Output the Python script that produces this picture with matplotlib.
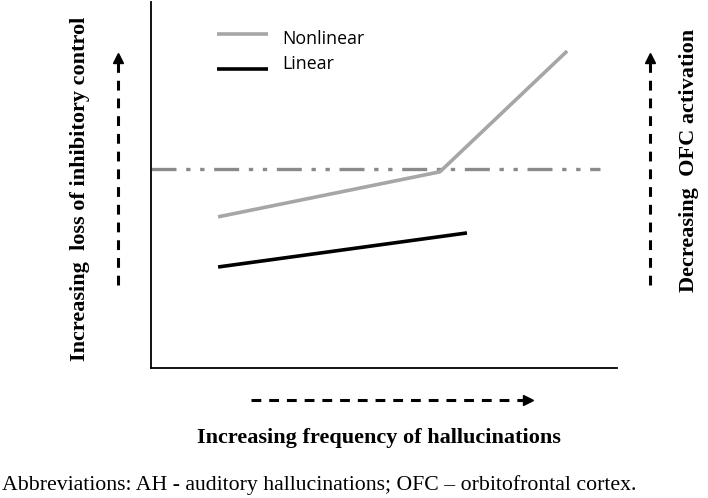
import matplotlib.pyplot as plt
from matplotlib.lines import Line2D

# schematic values (arbitrary units)
nonlinear_x = [1.44, 6.2, 8.93]
nonlinear_y = [4.13, 5.36, 8.66]
linear_x = [1.44, 6.78]
linear_y = [2.76, 3.69]
threshold_y = 5.44
threshold_xmax = 9.64

W, H = 708, 498
fig = plt.figure(figsize=(W / 100, H / 100), dpi=100)
ax = fig.add_axes([151 / W, 1 - 368 / H, (617 - 151) / W, (368 - 2) / H])
ax.set_xlim(0, 10)
ax.set_ylim(0, 10)
for s in ["top", "right"]:
    ax.spines[s].set_visible(False)
for s in ["left", "bottom"]:
    ax.spines[s].set_linewidth(1.3)
ax.set_xticks([])
ax.set_yticks([])

ax.plot([0, threshold_xmax], [threshold_y, threshold_y], color="#8a8a8a", lw=2.4,
        dashes=(7.5, 2.9, 1.3, 2.9, 1.3, 2.9))
ax.plot(nonlinear_x, nonlinear_y, color="#a6a6a6", lw=2.6, solid_capstyle="butt")
ax.plot(linear_x, linear_y, color="black", lw=2.6, solid_capstyle="butt")

# legend drawn by hand
lx0, lx1 = (217 - 151) / 46.6, (268 - 151) / 46.6
ax.plot([lx0, lx1], [(368 - 34) / 36.6] * 2, color="#a6a6a6", lw=2.6, solid_capstyle="butt")
ax.plot([lx0, lx1], [(368 - 69) / 36.6] * 2, color="black", lw=2.6, solid_capstyle="butt")
ax.text((282 - 151) / 46.6, (368 - 39) / 36.6, "Nonlinear", family="Open Sans",
        fontsize=12.8, va="center")
ax.text((282 - 151) / 46.6, (368 - 64) / 36.6, "Linear", family="Open Sans",
        fontsize=12.8, va="center")


def dashed_arrow(x0, y0, x1, y1, marker):
    fig.add_artist(Line2D([x0 / W, x1 / W], [1 - y0 / H, 1 - y1 / H], color="black",
                          lw=2.2, dashes=(3.2, 2.6)))
    fig.add_artist(Line2D([x1 / W], [1 - y1 / H], marker=marker, color="black",
                          markersize=7, lw=0))


dashed_arrow(118, 285, 118, 58, "^")
dashed_arrow(650, 285, 650, 58, "^")
dashed_arrow(251, 400, 528, 400, ">")

serif = "Liberation Serif"
fig.text(80 / W, 1 - 189 / H, "Increasing  loss of inhibitory control", rotation=90,
         family=serif, weight="bold", fontsize=16, ha="center", va="center")
fig.text(689 / W, 1 - 160 / H, "Decreasing  OFC activation", rotation=90,
         family=serif, weight="bold", fontsize=16, ha="center", va="center")
fig.text(379 / W, 1 - 438 / H, "Increasing frequency of hallucinations",
         family=serif, weight="bold", fontsize=16, ha="center", va="center")
fig.text(2 / W, 1 - 485 / H,
         "Abbreviations: AH - auditory hallucinations; OFC \u2013 orbitofrontal cortex.",
         family=serif, fontsize=15.7, ha="left", va="center")

fig.savefig("out.png", dpi=100)
